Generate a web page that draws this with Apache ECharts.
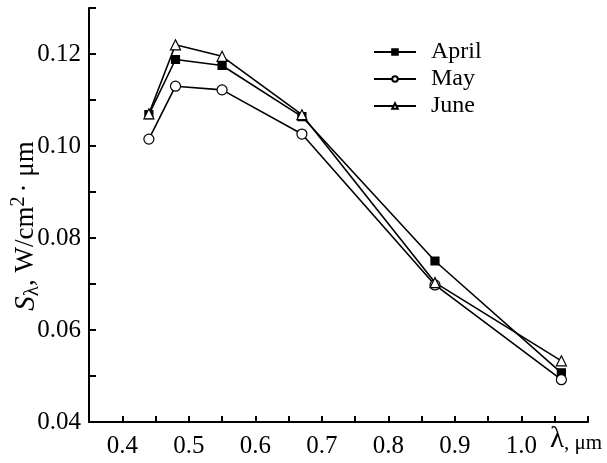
<!DOCTYPE html>
<html>
<head>
<meta charset="utf-8">
<script src="https://cdn.jsdelivr.net/npm/echarts@6/dist/echarts.min.js"></script>
<style>
html,body{margin:0;padding:0;background:#fff;}
#chart{width:607px;height:463px;}
</style>
</head>
<body>
<div id="chart"></div>
<script>
var wavelengths = [0.44, 0.48, 0.55, 0.67, 0.87, 1.06];
var april = [0.1068, 0.1188, 0.1175, 0.1064, 0.0750, 0.0507];
var may = [0.1015, 0.1130, 0.1122, 0.1026, 0.0698, 0.0492];
var june = [0.1070, 0.1220, 0.1195, 0.1068, 0.0703, 0.0533];
var seriesNames = ['April', 'May', 'June'];

function pairs(ys){ return wavelengths.map(function(x,i){ return [x, ys[i]]; }); }

var FONT = 'Liberation Serif';
var chart = echarts.init(document.getElementById('chart'), null, {renderer:'canvas'});

function mkSeries(name, ys, symbol, fill, size){
  return {
    name: name, type: 'line', data: pairs(ys),
    symbol: symbol, symbolSize: size,
    lineStyle: {color:'#000', width:1.6},
    itemStyle: {color: fill, borderColor:'#000', borderWidth:1.2},
    emphasis: {disabled:true},
    animation: false
  };
}

chart.setOption({
  animation: false,
  backgroundColor: '#fff',
  grid: {left: 89, right: 19, top: 8, bottom: 41, containLabel: false},
  legend: {
    orient: 'vertical', left: 368, top: 35,
    itemWidth: 42, itemHeight: 7, itemGap: 3,
    data: seriesNames,
    textStyle: {fontFamily: FONT, fontSize: 24, color: '#000', padding:[0,0,0,10]},
    inactiveColor: '#000'
  },
  xAxis: {
    type: 'value', min: 0.35, max: 1.1, interval: 0.05,
    axisLine: {show: true, onZero: false, lineStyle: {color:'#000', width: 2}},
    axisTick: {show: true, inside: true, length: 6, lineStyle: {color:'#000', width: 2}},
    splitLine: {show: false},
    axisLabel: {
      margin: 12, fontFamily: FONT, fontSize: 25, color: '#000',
      showMinLabel: true, showMaxLabel: true,
      formatter: function(v){
        var k = Math.round(v*100);
        if (k % 10 !== 0 || k > 100 || k < 40) return '';
        return (k/100).toFixed(1);
      }
    }
  },
  yAxis: {
    type: 'value', min: 0.04, max: 0.13, interval: 0.01,
    axisLine: {show: true, onZero: false, lineStyle: {color:'#000', width: 2}},
    axisTick: {show: true, inside: true, length: 7, lineStyle: {color:'#000', width: 2}},
    splitLine: {show: false},
    axisLabel: {
      margin: 8, fontFamily: FONT, fontSize: 25, color: '#000',
      showMinLabel: true, showMaxLabel: true,
      formatter: function(v){
        var k = Math.round(v*100);
        if (k % 2 !== 0 || k > 12) return '';
        return (k/100).toFixed(2);
      }
    }
  },
  graphic: [
    {
      type: 'text', x: 26, y: 226, rotation: Math.PI/2, silent: true,
      style: {
        text: '{s|S}{sub|λ}{n|, W/cm}{sup|2}{n|· μm}',
        align: 'center', verticalAlign: 'middle',
        rich: {
          s: {fontFamily: FONT, fontSize: 29, fontStyle: 'italic', lineHeight: 34, verticalAlign: 'middle', fill:'#000'},
          sub: {fontFamily: FONT, fontSize: 21, lineHeight: 21, verticalAlign: 'bottom', fill:'#000'},
          n: {fontFamily: FONT, fontSize: 27, lineHeight: 34, verticalAlign: 'middle', fill:'#000'},
          sup: {fontFamily: FONT, fontSize: 20, lineHeight: 20, verticalAlign: 'top', padding:[0,4,0,0], fill:'#000'}
        }
      }
    },
    {
      type: 'text', x: 550, y: 440, silent: true,
      style: {
        text: '{l|λ}{u|, μm}',
        verticalAlign: 'middle',
        rich: {
          l: {fontFamily: FONT, fontSize: 29, fill:'#000', verticalAlign:'bottom', lineHeight: 28},
          u: {fontFamily: FONT, fontSize: 21, fill:'#000', verticalAlign:'bottom', lineHeight: 28}
        }
      }
    }
  ],
  series: [
    mkSeries('April', april, 'rect', '#000', 8),
    mkSeries('May', may, 'circle', '#fff', 10),
    mkSeries('June', june, 'triangle', '#fff', 10)
  ]
});
</script>
</body>
</html>
